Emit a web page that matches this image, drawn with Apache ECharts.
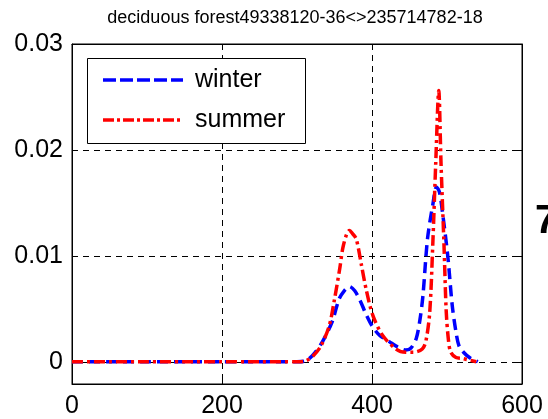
<!DOCTYPE html>
<html><head><meta charset="utf-8">
<script src="https://cdn.jsdelivr.net/npm/echarts@6/dist/echarts.min.js"></script>
<style>html,body{margin:0;padding:0;background:#fff}#c{width:548px;height:419px}</style>
</head><body><div id="c"></div>
<script>
const titleText = 'deciduous forest49338120-36<>235714782-18';
const seriesNames = ['winter', 'summer'];
const winterX = [0, 50, 100, 150, 200, 250, 300, 312, 322, 334, 347, 356, 363, 370, 377, 384, 392, 400, 410, 423, 434, 445, 452, 459, 464, 468, 474, 481, 486, 490, 494, 501, 507, 512, 516, 522, 530, 541];
const winterY = [0, 0, 0, 0, 0, 0, 0, 0.0001, 0.0007, 0.0019, 0.0038, 0.0059, 0.0067, 0.0071, 0.0067, 0.0058, 0.0045, 0.0034, 0.0025, 0.0019, 0.0014, 0.0011, 0.0013, 0.0022, 0.0040, 0.0063, 0.0116, 0.0148, 0.0165, 0.0160, 0.0141, 0.0100, 0.0053, 0.0028, 0.0015, 0.0009, 0.0004, 0];
const summerX = [0, 50, 100, 150, 200, 250, 300, 312, 322, 332, 343, 350, 357, 361, 366, 370, 374, 379, 386, 392, 401, 414, 432, 445, 455, 467, 472, 477, 481, 485, 489, 492, 496, 499, 502, 505, 512, 521, 539];
const summerY = [0, 0, 0, 0, 0, 0, 0, 0.0001, 0.0006, 0.0015, 0.0034, 0.0059, 0.0088, 0.0107, 0.0120, 0.0124, 0.0121, 0.0116, 0.0091, 0.0069, 0.0044, 0.0025, 0.0012, 0.0009, 0.0009, 0.0012, 0.0020, 0.0047, 0.0110, 0.0188, 0.0256, 0.0188, 0.0110, 0.0047, 0.0020, 0.0009, 0.0004, 0.0003, 0];
const xTicks = [0, 200, 400, 600];
const yTicks = [0, 0.01, 0.02, 0.03];
const sideLabel = '7';

const FONT = 'Liberation Sans, Arial, Helvetica, sans-serif';
const pairs = (xs, ys) => xs.map((x, i) => [x, ys[i]]);

const chart = echarts.init(document.getElementById('c'), null, {renderer: 'canvas'});
const gridLine = {show: true, lineStyle: {color: '#000', width: 1, type: [6, 5]}};
const option = {
  backgroundColor: '#fff',
  animation: false,
  title: {
    text: titleText, left: 290, top: 4, textAlign: 'center',
    textStyle: {fontFamily: FONT, fontSize: 18, fontWeight: 'normal', color: '#000'}
  },
  grid: {left: 72, right: 26, top: 44, bottom: 33, show: true, borderColor: '#000', borderWidth: 1, backgroundColor: '#fff'},
  xAxis: [{
    type: 'value', min: 0, max: 600, interval: 200,
    axisLine: {show: true, onZero: false, lineStyle: {color: '#000', width: 1}},
    axisTick: {show: true, inside: true, length: 6, lineStyle: {color: '#000'}},
    axisLabel: {fontFamily: FONT, fontSize: 25, color: '#000', margin: 10,
      customValues: xTicks},
    splitLine: gridLine
  }, {
    type: 'value', min: 0, max: 600, interval: 200, position: 'top',
    axisLine: {show: true, onZero: false, lineStyle: {color: '#000', width: 1}},
    axisTick: {show: true, inside: true, length: 6, lineStyle: {color: '#000'}},
    axisLabel: {show: false}, splitLine: {show: false}
  }],
  yAxis: [{
    type: 'value', min: -0.0021, max: 0.03,
    axisLine: {show: true, onZero: false, lineStyle: {color: '#000', width: 1}},
    axisTick: {show: true, inside: true, length: 6, lineStyle: {color: '#000'}, customValues: yTicks},
    axisLabel: {fontFamily: FONT, fontSize: 25, color: '#000', margin: 9, customValues: yTicks,
      formatter: v => String(+v.toFixed(4))},
    splitLine: Object.assign({customValues: yTicks}, gridLine)
  }, {
    type: 'value', min: -0.0021, max: 0.03, position: 'right',
    axisLine: {show: true, onZero: false, lineStyle: {color: '#000', width: 1}},
    axisTick: {show: true, inside: true, length: 6, lineStyle: {color: '#000'}, customValues: yTicks},
    axisLabel: {show: false, customValues: yTicks}, splitLine: {show: false}
  }],
  series: [{
    name: seriesNames[0], type: 'line', data: pairs(winterX, winterY),
    showSymbol: false, smooth: 0.3, z: 3,
    lineStyle: {color: '#0000ff', width: 3.5, type: [11, 6]}
  }, {
    name: seriesNames[1], type: 'line', data: pairs(summerX, summerY),
    showSymbol: false, smooth: 0.3, z: 4,
    lineStyle: {color: '#ff0000', width: 3.5, type: [11, 4, 3, 4]}
  }],
  graphic: [
    {type: 'rect', left: 87, top: 58, z: 100, shape: {width: 218, height: 85},
      style: {fill: '#fff', stroke: '#000', lineWidth: 1}},
    {type: 'line', z: 101, shape: {x1: 103, y1: 80, x2: 183, y2: 80},
      style: {stroke: '#0000ff', lineWidth: 3.3, lineDash: [13, 4]}},
    {type: 'text', z: 101, style: {x: 195, y: 80, text: seriesNames[0], font: '25px ' + FONT, fill: '#000', verticalAlign: 'middle'}},
    {type: 'line', z: 101, shape: {x1: 103, y1: 120, x2: 183, y2: 120},
      style: {stroke: '#ff0000', lineWidth: 3.3, lineDash: [11, 3, 3, 3]}},
    {type: 'text', z: 101, style: {x: 195, y: 120, text: seriesNames[1], font: '25px ' + FONT, fill: '#000', verticalAlign: 'middle'}},
    {type: 'text', z: 101, style: {x: 535, y: 222, text: sideLabel, font: 'bold 40px ' + FONT, fill: '#000', verticalAlign: 'middle'}}
  ]
};
chart.setOption(option);
</script>
</body></html>
